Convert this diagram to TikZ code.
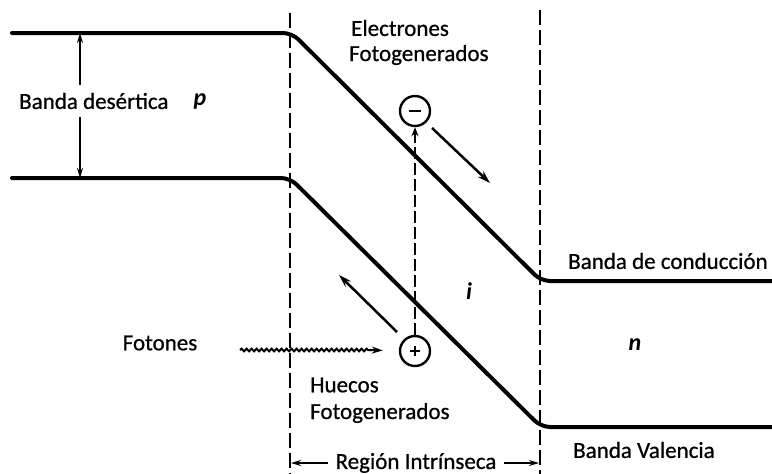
\documentclass[tikz,border=0pt]{standalone}
\usepackage{fontspec}
\setmainfont{Carlito}
\newfontfamily\lblfont{Carlito}[FakeBold=0.7]
\usetikzlibrary{arrows.meta,decorations.pathmorphing}
\begin{document}
\begin{tikzpicture}[x=1pt,y=-1pt,
  band/.style={line width=4pt, rounded corners=9pt, line cap=round},
  guide/.style={line width=2.2pt, dash pattern=on 15pt off 5pt},
  lbl/.style={font=\lblfont\fontsize{23}{27}\selectfont, inner sep=0pt, text=black},
  sym/.style={font=\fontsize{24}{28}\selectfont\bfseries\itshape, inner sep=0pt},
  arr/.style={line width=2.5pt, -{Stealth[length=13pt,width=8pt]}},
  tip/.style={-{Stealth[length=11pt,width=7pt]}},
  carrier/.style={circle, draw, line width=2.4pt, minimum size=30pt, inner sep=0pt, fill=white}]
\useasboundingbox (0,0) rectangle (772,474);

% guide lines
\coordinate (g1t) at (290,13);
\coordinate (g1b) at (290,474);
\coordinate (g2t) at (540,10);
\coordinate (g2b) at (540,474);
\draw[guide] (g1t) -- (g1b);
\draw[guide] (g2t) -- (g2b);

% bands
\coordinate (c0) at (12,33);
\coordinate (c1) at (292,33);
\coordinate (c2) at (541,281);
\coordinate (c3) at (772,281);
\coordinate (v0) at (12,178);
\coordinate (v1) at (290,178);
\coordinate (v2) at (541,427);
\coordinate (v3) at (772,427);
\draw[band] (c0) -- (c1) -- (c2) -- (c3);
\draw[band] (v0) -- (v1) -- (v2) -- (v3);

% band gap arrow
\coordinate (gt) at (80,33);
\coordinate (gb) at (80,178);
\draw[line width=2pt, {Stealth[length=10pt,width=6pt]}-{Stealth[length=10pt,width=6pt]}] (gt) -- (gb);
\node[lbl, anchor=west, fill=white, inner ysep=8pt, inner xsep=2pt] (gap) at (17,101) {Banda desértica};
\node[sym] (p) at (200,101) {p};

% carriers
\node[carrier] (minus) at (415,111) {};
\node[carrier] (plus) at (415,351) {};
\draw[line width=1.4pt] ([xshift=-6pt]minus.center) -- ([xshift=6pt]minus.center);
\draw[line width=1.4pt] ([xshift=-5pt]plus.center) -- ([xshift=5pt]plus.center);
\draw[line width=1.4pt] ([yshift=-5pt]plus.center) -- ([yshift=5pt]plus.center);
\draw[line width=2.4pt, dash pattern=on 12pt off 4pt, -{Stealth[length=9pt,width=7pt]}] (plus.north) -- (minus.south);

% drift arrows
\coordinate (ea) at (432,128);
\coordinate (eb) at (490,183);
\coordinate (ha) at (397,332);
\coordinate (hb) at (339,275);
\draw[arr] (ea) -- (eb);
\draw[arr] (ha) -- (hb);

% photons
\coordinate (ph) at (240,350);
\coordinate (phm) at (370,350);
\draw[line width=2pt, decorate, decoration={snake, amplitude=1.3pt, segment length=5pt}] (ph) -- (phm);
\draw[line width=2pt, tip, shorten >=16pt] (phm) -- (plus.west);
\node[lbl] (fot) at (160,343) {Fotones};

% labels
\node[lbl, anchor=west] (el1) at (351,28) {Electrones};
\node[lbl, anchor=west] (el2) at (349,55) {Fotogenerados};
\node[lbl, anchor=west] (hu1) at (310,385) {Huecos};
\node[lbl, anchor=west] (hu2) at (310,413) {Fotogenerados};
\node[sym] (i) at (469,291) {i};
\node[sym] (n) at (635,345) {n};
\node[lbl, anchor=west] (bc) at (568,261) {Banda de conducción};
\node[lbl, anchor=west] (bv) at (573,450) {Banda Valencia};

% intrinsic region
\node[lbl, inner xsep=7pt] (reg) at (416,463) {Región Intrínseca};
\coordinate (r1) at (291,463);
\coordinate (r2) at (539,463);
\draw[line width=2pt, -{Stealth[length=10pt,width=6pt]}] (reg.west) -- (r1);
\draw[line width=2pt, -{Stealth[length=10pt,width=6pt]}] (reg.east) -- (r2);
\end{tikzpicture}
\end{document}
